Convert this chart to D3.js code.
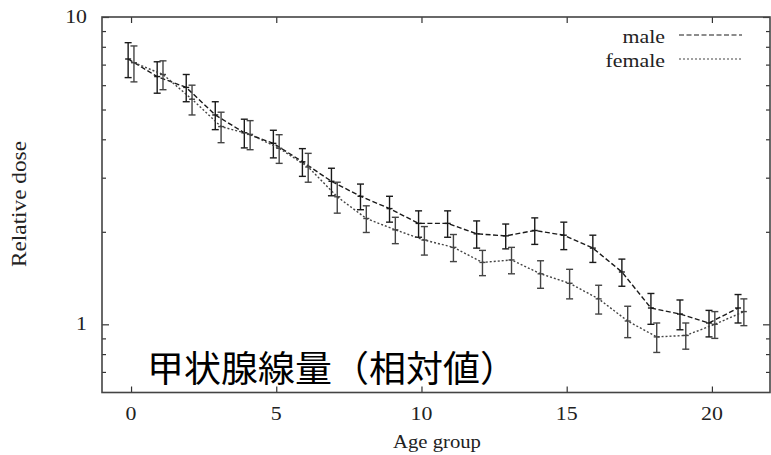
<!DOCTYPE html>
<html>
<head>
<meta charset="utf-8">
<script src="https://cdn.jsdelivr.net/npm/d3@7"></script>
<style>
  body { margin: 0; background: #fff; }
  svg { display: block; }
</style>
</head>
<body>
<div id="chart"></div>
<script>
// values
const ages = [0, 1, 2, 3, 4, 5, 6, 7, 8, 9, 10, 11, 12, 13, 14, 15, 16, 17, 18, 19, 20, 21];
const maleDose = [7.3, 6.4, 5.9, 4.8, 4.2, 3.88, 3.38, 2.92, 2.61, 2.38, 2.13, 2.13, 1.97, 1.94, 2.02, 1.95, 1.77, 1.48, 1.13, 1.08, 1.01, 1.13];
const maleErr = [0.95, 0.75, 0.6, 0.5, 0.45, 0.4, 0.35, 0.3, 0.25, 0.23, 0.21, 0.21, 0.2, 0.18, 0.2, 0.2, 0.18, 0.15, 0.13, 0.12, 0.1, 0.12];
const femaleDose = [7.1, 6.5, 5.4, 4.4, 4.15, 3.74, 3.25, 2.6, 2.21, 2.03, 1.88, 1.78, 1.59, 1.62, 1.46, 1.36, 1.21, 1.025, 0.91, 0.92, 1.0, 1.1];
const femaleErr = [0.95, 0.7, 0.6, 0.5, 0.45, 0.4, 0.35, 0.3, 0.22, 0.2, 0.2, 0.18, 0.15, 0.16, 0.15, 0.15, 0.13, 0.12, 0.1, 0.09, 0.1, 0.11];

const xTicks = [0, 5, 10, 15, 20];
const yMajor = [1, 10];
const yMinor = [0.7, 0.8, 0.9, 2, 3, 4, 5, 6, 7, 8, 9];

const width = 771, height = 455;
const plotLeft = 102, plotRight = 770, plotTop = 17, plotBottom = 392.5;
const serif = "'Liberation Serif', 'DejaVu Serif', serif";
const stretch = 1.15; // the source image is a bit wide

const svg = d3.select("#chart").append("svg")
  .attr("width", width)
  .attr("height", height);

const x = d3.scaleLinear().domain([-1, 22]).range([plotLeft, plotRight]);
const y = d3.scaleLog().domain([0.6, 10]).range([plotBottom, plotTop]);

// ticks on all four sides, pointing in
const tickStyle = g => g.call(g => g.select(".domain").remove())
  .selectAll("line").attr("stroke", "#333").attr("stroke-width", 1.2);

svg.append("g").attr("transform", `translate(0,${plotBottom})`)
  .call(d3.axisBottom(x).tickValues(xTicks).tickSize(-6).tickFormat(""))
  .call(tickStyle);
svg.append("g").attr("transform", `translate(0,${plotTop})`)
  .call(d3.axisTop(x).tickValues(xTicks).tickSize(-6).tickFormat(""))
  .call(tickStyle);
svg.append("g").attr("transform", `translate(${plotLeft},0)`)
  .call(d3.axisLeft(y).tickValues(yMajor).tickSize(-7).tickFormat(""))
  .call(tickStyle);
svg.append("g").attr("transform", `translate(${plotLeft},0)`)
  .call(d3.axisLeft(y).tickValues(yMinor).tickSize(-4).tickFormat(""))
  .call(tickStyle);
svg.append("g").attr("transform", `translate(${plotRight},0)`)
  .call(d3.axisRight(y).tickValues(yMajor).tickSize(-7).tickFormat(""))
  .call(tickStyle);
svg.append("g").attr("transform", `translate(${plotRight},0)`)
  .call(d3.axisRight(y).tickValues(yMinor).tickSize(-4).tickFormat(""))
  .call(tickStyle);

// frame
svg.append("rect")
  .attr("x", plotLeft).attr("y", plotTop)
  .attr("width", plotRight - plotLeft).attr("height", plotBottom - plotTop)
  .attr("fill", "none").attr("stroke", "#444").attr("stroke-width", 1.6);

// tick labels
svg.append("g").selectAll("text").data(xTicks).join("text")
  .attr("transform", d => `translate(${x(d)},420) scale(${stretch},1)`)
  .attr("text-anchor", "middle")
  .attr("font-family", serif).attr("font-size", 19).attr("fill", "#222")
  .text(d => d);

svg.append("g").selectAll("text").data(yMajor).join("text")
  .attr("transform", d => `translate(87,${y(d) + 6}) scale(${stretch},1)`)
  .attr("text-anchor", "end")
  .attr("font-family", serif).attr("font-size", 19).attr("fill", "#222")
  .text(d => d);

// axis titles
svg.append("text")
  .attr("transform", `translate(437,448) scale(${stretch},1)`)
  .attr("text-anchor", "middle")
  .attr("font-family", serif).attr("font-size", 18).attr("fill", "#222")
  .text("Age group");

svg.append("text")
  .attr("transform", "translate(26,204) rotate(-90)")
  .attr("text-anchor", "middle")
  .attr("font-family", serif).attr("font-size", 20).attr("fill", "#222")
  .attr("textLength", 126)
  .attr("lengthAdjust", "spacingAndGlyphs")
  .text("Relative dose");

// series
const series = [
  { name: "male", dose: maleDose, err: maleErr, dx: -0.1, color: "#1a1a1a", dash: "5,2.5" },
  { name: "female", dose: femaleDose, err: femaleErr, dx: 0.1, color: "#444", dash: "2,2" }
];

const line = d3.line()
  .x(d => x(d.age))
  .y(d => y(d.v));

series.forEach(s => {
  const pts = ages.map((a, i) => ({ age: a + s.dx, v: s.dose[i], e: s.err[i] }));
  const g = svg.append("g");

  g.append("path")
    .datum(pts)
    .attr("d", line)
    .attr("fill", "none")
    .attr("stroke", s.color)
    .attr("stroke-width", 1.4)
    .attr("stroke-dasharray", s.dash);

  const bars = g.selectAll(".bar").data(pts).join("g").attr("class", "bar")
    .attr("stroke", s.color).attr("stroke-width", 1.4);
  bars.append("line")
    .attr("x1", d => x(d.age)).attr("x2", d => x(d.age))
    .attr("y1", d => y(d.v + d.e)).attr("y2", d => y(d.v - d.e));
  bars.append("line")
    .attr("x1", d => x(d.age) - 3.5).attr("x2", d => x(d.age) + 3.5)
    .attr("y1", d => y(d.v + d.e)).attr("y2", d => y(d.v + d.e));
  bars.append("line")
    .attr("x1", d => x(d.age) - 3.5).attr("x2", d => x(d.age) + 3.5)
    .attr("y1", d => y(d.v - d.e)).attr("y2", d => y(d.v - d.e));
  bars.append("line")
    .attr("x1", d => x(d.age) - 3).attr("x2", d => x(d.age) + 3)
    .attr("y1", d => y(d.v)).attr("y2", d => y(d.v));
});

// legend
const legend = svg.append("g");
series.forEach((s, i) => {
  const ly = 35 + i * 24;
  legend.append("text")
    .attr("transform", `translate(665,${ly + 8}) scale(${stretch},1)`)
    .attr("text-anchor", "end")
    .attr("font-family", serif).attr("font-size", 19).attr("fill", "#222")
    .text(s.name);
  legend.append("line")
    .attr("x1", 679).attr("x2", 742)
    .attr("y1", ly).attr("y2", ly)
    .attr("stroke", s.color).attr("stroke-width", 1.2)
    .attr("stroke-dasharray", s.dash);
});

// overlay title
svg.append("text")
  .attr("x", 147).attr("y", 382)
  .attr("font-family", "'Noto Sans CJK JP', sans-serif")
  .attr("font-size", 36)
  .attr("fill", "#000")
  .attr("textLength", 370)
  .attr("lengthAdjust", "spacingAndGlyphs")
  .text("甲状腺線量（相対値）");
</script>
</body>
</html>
